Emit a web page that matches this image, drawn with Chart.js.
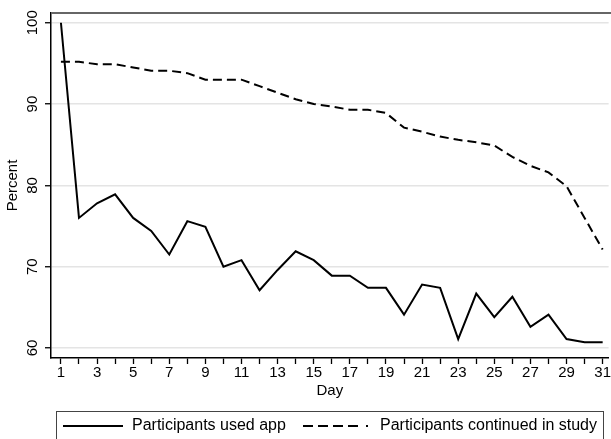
<!DOCTYPE html>
<html>
<head>
<meta charset="utf-8">
<script src="https://cdn.jsdelivr.net/npm/chart.js@4/dist/chart.umd.min.js"></script>
<style>
  html, body { margin: 0; padding: 0; background: #fff; overflow: hidden; }
  #wrap { position: relative; width: 611px; height: 439px; }
  #legend {
    position: absolute; left: 56px; top: 411px; width: 548px; height: 32px;
    border: 1px solid #444; box-sizing: border-box;
    font-family: "Liberation Sans", Arial, sans-serif; font-size: 16px; color: #000;
  }
  #legend span, #legend svg { position: absolute; }
  #legend span { top: 4px; line-height: 18px; white-space: nowrap; }
</style>
</head>
<body>
<div id="wrap">
  <canvas id="chart" width="611" height="439"></canvas>
  <div id="legend">
    <svg style="left:6px; top:12px" width="60" height="4"><line x1="0" y1="2" x2="60" y2="2" stroke="#000" stroke-width="2"/></svg>
    <span style="left:75px">Participants used app</span>
    <svg style="left:246px; top:12px" width="70" height="4"><line x1="0" y1="2" x2="70" y2="2" stroke="#000" stroke-width="2" stroke-dasharray="10,5,10,5,10,5,10,8,2,20"/></svg>
    <span style="left:323px">Participants continued in study</span>
  </div>
</div>
<script>
// Data
const days = [1, 2, 3, 4, 5, 6, 7, 8, 9, 10, 11, 12, 13, 14, 15, 16, 17, 18, 19, 20, 21, 22, 23, 24, 25, 26, 27, 28, 29, 30, 31];
const usedApp = [100, 76.0, 77.8, 78.9, 76.0, 74.4, 71.5, 75.6, 74.9, 70.0, 70.8, 67.1, 69.6, 71.9, 70.8, 68.9,
                 68.9, 67.4, 67.4, 64.1, 67.8, 67.4, 61.1, 66.7, 63.8, 66.3, 62.6, 64.1, 61.1, 60.7, 60.7];
const continued = [95.2, 95.2, 94.9, 94.9, 94.5, 94.1, 94.1, 93.8, 93.0, 93.0, 93.0, 92.2, 91.4, 90.6, 90.0, 89.7,
                   89.3, 89.3, 88.9, 87.1, 86.6, 86.0, 85.6, 85.3, 84.9, 83.5, 82.4, 81.6, 79.9, 76.0, 72.1];
const yTicks = [60, 70, 80, 90, 100];

const FONT = '"Liberation Sans", Arial, sans-serif';

// top frame line + axis titles
const extras = {
  id: 'extras',
  beforeDatasetsDraw(chart) {
    const ctx = chart.ctx, a = chart.chartArea;
    ctx.save();
    ctx.strokeStyle = '#666';
    ctx.lineWidth = 2;
    ctx.beginPath();
    ctx.moveTo(a.left, a.top);
    ctx.lineTo(chart.width, a.top);
    ctx.stroke();
    ctx.restore();
  },
  afterDraw(chart) {
    const ctx = chart.ctx, a = chart.chartArea;
    ctx.save();
    ctx.fillStyle = '#000';
    ctx.font = '15px ' + FONT;
    ctx.textAlign = 'center';
    ctx.textBaseline = 'middle';
    ctx.fillText('Day', (a.left + a.right) / 2, 391);
    ctx.translate(13, (a.top + a.bottom) / 2);
    ctx.rotate(-Math.PI / 2);
    ctx.fillText('Percent', 0, 0);
    ctx.restore();
  }
};

new Chart(document.getElementById('chart'), {
  type: 'line',
  data: {
    datasets: [
      {
        label: 'Participants used app',
        data: days.map((d, i) => ({ x: d, y: usedApp[i] })),
        borderColor: '#000',
        borderWidth: 2,
        pointRadius: 0,
        tension: 0
      },
      {
        label: 'Participants continued in study',
        data: days.map((d, i) => ({ x: d, y: continued[i] })),
        borderColor: '#000',
        borderWidth: 2,
        borderDash: [9, 5],
        pointRadius: 0,
        tension: 0
      }
    ]
  },
  options: {
    responsive: false,
    animation: false,
    devicePixelRatio: 1,
    layout: { padding: { top: 13, right: 0, bottom: 0, left: 0 } },
    plugins: { legend: { display: false }, tooltip: { enabled: false } },
    scales: {
      x: {
        type: 'linear',
        min: 0.45,
        max: 31.33,
        afterBuildTicks: s => { s.ticks = days.map(d => ({ value: d })); },
        afterFit: s => { s.height = 81; },
        grid: { drawOnChartArea: false, tickLength: 6, tickColor: '#000', tickWidth: 1.3 },
        border: { color: '#000', width: 1.5 },
        ticks: {
          autoSkip: false,
          maxRotation: 0,
          padding: 0,
          color: '#000',
          font: { family: FONT, size: 15 },
          callback: v => (v % 2 === 1 ? String(v) : '')
        }
      },
      y: {
        min: 58.77,
        max: 101.2,
        afterBuildTicks: s => { s.ticks = yTicks.map(v => ({ value: v })); },
        afterFit: s => { s.width = 51; },
        grid: { color: '#e4e4e4', lineWidth: 1.5, tickLength: 6, tickColor: '#000', tickWidth: 1.3 },
        border: { color: '#000', width: 1.5 },
        ticks: {
          minRotation: 90,
          crossAlign: 'center',
          padding: 0,
          color: '#000',
          font: { family: FONT, size: 15 }
        }
      }
    }
  },
  plugins: [extras]
});
</script>
</body>
</html>
